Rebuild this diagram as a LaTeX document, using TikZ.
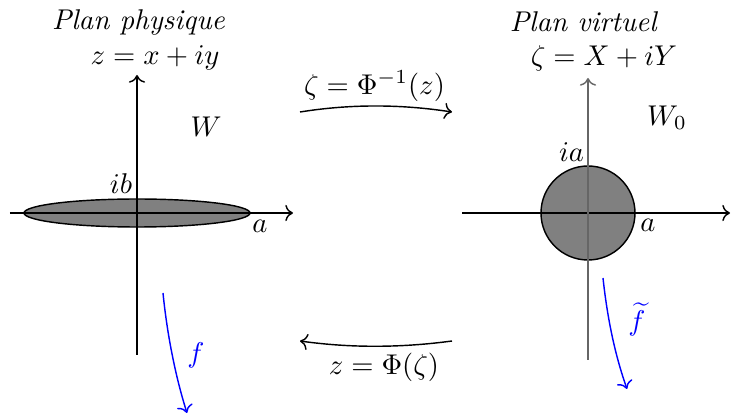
\documentclass[tikz,border=0pt]{standalone}
\usetikzlibrary{arrows.meta}
\begin{document}
\begin{tikzpicture}[x=0.35pt,y=-0.35pt,line width=0.5pt,
  axis/.style={->},
  flow/.style={->,blue},
  lbl/.style={inner sep=0pt},
  region/.style={draw=black,fill=gray}]
\useasboundingbox (0,0) rectangle (732,414);
% coordinates
\coordinate (LxS) at (10,213);   \coordinate (LxE) at (293,213);
\coordinate (LyS) at (137,355);  \coordinate (LyE) at (137,75);
\coordinate (RxS) at (462,213);  \coordinate (RxE) at (730,213);
\coordinate (RyS) at (588,360);  \coordinate (RyE) at (588,78);
\coordinate (T1) at (300,112);   \coordinate (T2) at (452,112);
\coordinate (B1) at (452,341);   \coordinate (B2) at (300,341);
\coordinate (F1) at (163,293);   \coordinate (F2) at (187,413);
\coordinate (G1) at (603,278);   \coordinate (G2) at (627,389);
% shapes
\draw[region] (137,213) ellipse [x radius=39.55pt, y radius=4.9pt];
\draw[region] (588,213) circle [radius=16.45pt];
% axes
\draw[axis] (LxS) -- (LxE);
\draw[axis] (LyS) -- (LyE);
\draw[axis] (RxS) -- (RxE);
\draw[axis,black!60] (RyS) -- (RyE);
% maps
\draw[->] (T1) .. controls (350,104) and (400,104) .. (T2);
\draw[->] (B1) .. controls (400,348) and (350,348) .. (B2);
\draw[flow] (F1) .. controls (167,333) and (175,375) .. (F2);
\draw[flow] (G1) .. controls (607,315) and (614,352) .. (G2);
% labels
\node[lbl] (pp) at (138.5,23) {\textit{Plan physique}};
\node[lbl] (zz) at (155,58) {$z=x+iy$};
\node[lbl] (W) at (206,127) {$W$};
\node[lbl] (ib) at (121,184) {$ib$};
\node[lbl] (a1) at (260,226) {$a$};
\node[lbl] (pv) at (584,22) {\textit{Plan virtuel}};
\node[lbl] (zeta) at (604,58) {$\zeta=X+iY$};
\node[lbl] (W0) at (667,118) {$W_0$};
\node[lbl] (ia) at (571.5,152.5) {$ia$};
\node[lbl] (a2) at (648,225.5) {$a$};
\node[lbl] (phiinv) at (374.5,86) {$\zeta=\Phi^{-1}(z)$};
\node[lbl] (phi) at (384,367) {$z=\Phi(\zeta)$};
\node[lbl,blue] (f) at (196,355) {$f$};
\node[lbl,blue] (ft) at (637,319.5) {$\widetilde{f}$};
\end{tikzpicture}
\end{document}
